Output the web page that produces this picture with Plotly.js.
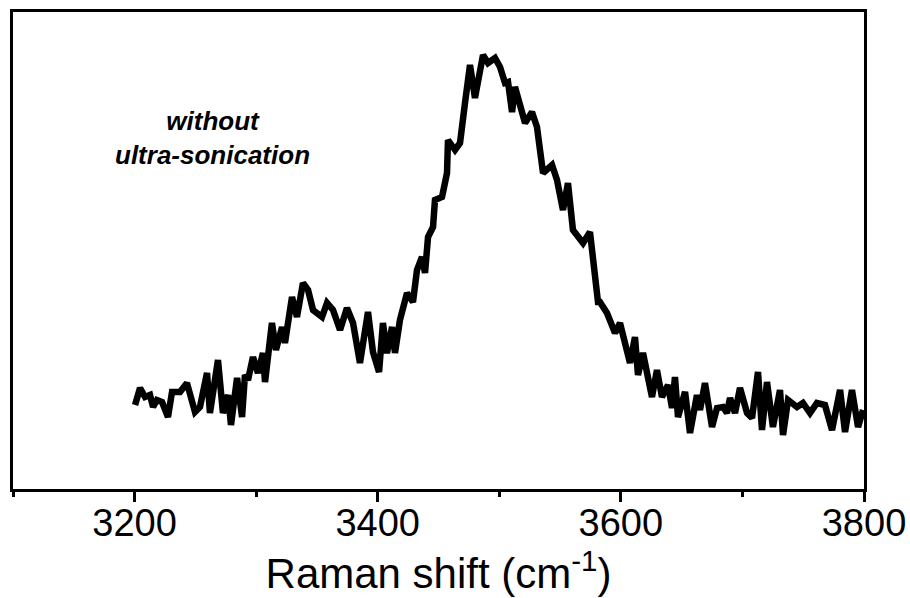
<!DOCTYPE html>
<html>
<head>
<meta charset="utf-8">
<script src="https://cdn.plot.ly/plotly-3.0.1.min.js"></script>
<style>html,body{margin:0;padding:0;background:#fff;}#chart{width:910px;height:598px;}</style>
</head>
<body>
<div id="chart"></div>
<script>
// Raman shift (cm-1)
var ramanShift = [3200.4,3204.5,3208.6,3212.7,3215.2,3218.4,3222.6,3227.5,3230.8,3237.4,3243.1,3249.7,3253.8,3259.6,3262.0,3268.6,3272.7,3276.9,3279.3,3284.3,3288.4,3290.8,3293.3,3297.4,3301.5,3305.6,3307.3,3313.0,3316.3,3321.3,3323.7,3329.5,3333.6,3338.5,3342.7,3346.8,3354.2,3358.3,3363.2,3369.0,3374.7,3379.7,3385.4,3392.0,3396.1,3401.1,3404.3,3407.6,3411.8,3414.2,3418.3,3424.1,3429.0,3432.3,3436.4,3438.9,3441.4,3445.5,3447.1,3452.9,3457.0,3457.8,3463.6,3467.7,3471.8,3475.9,3480.0,3482.5,3486.6,3490.7,3496.5,3500.6,3504.7,3507.2,3510.5,3512.9,3517.0,3521.2,3526.9,3531.0,3536.0,3543.4,3547.5,3552.4,3556.5,3560.6,3568.9,3574.6,3581.2,3582.8,3588.6,3595.2,3599.3,3607.5,3611.6,3614.1,3618.2,3625.6,3629.7,3633.8,3638.8,3642.1,3644.5,3647.0,3652.8,3656.9,3662.6,3665.1,3669.2,3675.0,3679.1,3684.0,3687.3,3689.8,3693.9,3698.0,3703.8,3707.9,3712.8,3716.1,3720.2,3725.1,3730.9,3733.4,3737.5,3744.9,3749.8,3755.6,3761.3,3767.9,3773.7,3780.3,3784.4,3790.1,3795.1,3799.2];
// Intensity (a.u.)
var intensity = [84,101,92,94,82,89,87,72,97,97,106,77,82,116,76,129,76,94,64,111,72,114,109,132,116,136,107,166,139,162,146,192,172,206,199,179,172,186,179,159,181,166,126,177,137,117,166,136,162,136,169,196,187,219,232,216,252,262,289,292,316,349,339,346,386,424,391,406,434,426,431,422,406,407,377,402,386,366,377,362,316,324,309,279,306,259,246,257,187,187,176,156,166,126,152,114,136,92,119,92,104,81,112,72,97,56,94,79,106,62,81,82,76,91,76,101,76,71,117,59,107,62,99,54,89,82,86,76,86,84,59,99,57,99,62,79];
var majorTicks = [3200, 3400, 3600, 3800];
var minorTicks = [3100, 3300, 3500, 3700];

var trace = {
  x: ramanShift, y: intensity, type: 'scatter', mode: 'lines',
  line: {color: '#000000', width: 6.5}, hoverinfo: 'skip', showlegend: false
};

var layout = {
  width: 910, height: 598,
  margin: {l: 13, r: 46, t: 12, b: 109},
  paper_bgcolor: '#ffffff', plot_bgcolor: '#ffffff',
  font: {family: 'Arial, "Liberation Sans", sans-serif', color: '#000000'},
  xaxis: {
    range: [3100, 3800], showgrid: false, zeroline: false,
    showline: true, mirror: true, linecolor: '#000000', linewidth: 3,
    ticks: 'outside', tickvals: majorTicks, ticklen: 10, tickwidth: 3, tickcolor: '#000000',
    ticklabelstandoff: -12,
    minor: {tickvals: minorTicks, ticks: 'outside', ticklen: 5, tickwidth: 3, tickcolor: '#000000', showgrid: false},
    tickfont: {size: 38, color: '#000000'},
    title: {text: 'Raman shift (cm<sup>-1</sup>)', font: {size: 42, color: '#000000'}, standoff: 12}
  },
  yaxis: {
    range: [0, 477], showgrid: false, zeroline: false,
    showline: true, mirror: true, linecolor: '#000000', linewidth: 3,
    ticks: '', showticklabels: false
  },
  annotations: [{
    xref: 'paper', yref: 'paper', x: 0.234, y: 0.735,
    text: '<b><i>without</i></b><br><b><i>ultra-sonication</i></b>',
    showarrow: false, align: 'center', xanchor: 'center', yanchor: 'middle',
    font: {size: 26, color: '#000000'}
  }]
};

Plotly.newPlot('chart', [trace], layout, {staticPlot: true, displayModeBar: false});
</script>
</body>
</html>
